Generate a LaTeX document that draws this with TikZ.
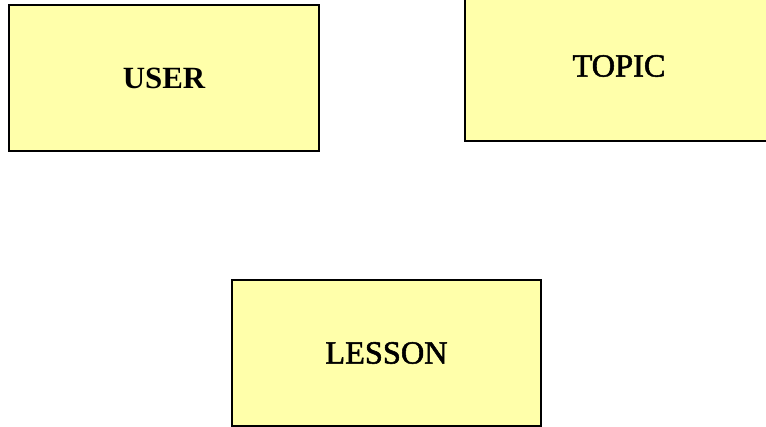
\documentclass[tikz,border=0pt]{standalone}
\usepackage{fontspec}
\setmainfont{Liberation Serif}
\newfontfamily\semibd[FakeBold=1.6]{Liberation Serif}
\begin{document}
\begin{tikzpicture}[x=1bp,y=-1bp,
  entity/.style={draw=black, line width=1.4bp, fill=boxyellow, inner sep=0pt, outer sep=0pt,
    font=\semibd\fontsize{32.5}{32.5}\selectfont, align=center}]
\definecolor{boxyellow}{HTML}{FFFFAA}
\useasboundingbox (0,0) rectangle (766,426);
\clip (0,0) rectangle (766,426);
\node[entity, minimum width=310bp, minimum height=146bp, font=\fontsize{31}{31}\selectfont\bfseries] (user) at (164,78) {USER};
\node[entity, minimum width=308bp, minimum height=150bp] (topic) at (619,66) {TOPIC};
\node[entity, minimum width=309bp, minimum height=146bp] (lesson) at (386.5,353) {LESSON};
\end{tikzpicture}
\end{document}
